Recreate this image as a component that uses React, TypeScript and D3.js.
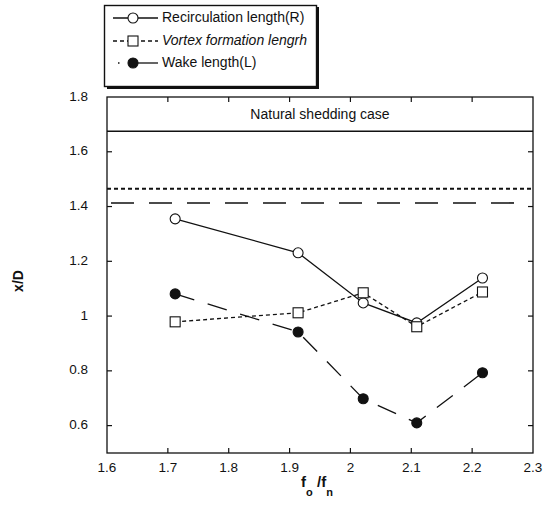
import React, { useEffect, useRef } from "react";
import * as d3 from "d3";

// frequency ratio f_o/f_n
const freq = [1.712, 1.914, 2.021, 2.109, 2.217];
const recirculation = [1.355, 1.231, 1.048, 0.975, 1.139];
const vortexFormation = [0.979, 1.012, 1.085, 0.961, 1.088];
const wakeLength = [1.081, 0.942, 0.698, 0.61, 0.793];

// natural shedding reference levels
const naturalRecirculation = 1.675;
const naturalVortex = 1.465;
const naturalWake = 1.413;

const xTicks = [1.6, 1.7, 1.8, 1.9, 2, 2.1, 2.2, 2.3];
const yTicks = [0.6, 0.8, 1, 1.2, 1.4, 1.6, 1.8];

const legendNames = ["Recirculation length(R)", "Vortex formation lengrh", "Wake length(L)"];

const FONT = "'Liberation Sans', Arial, sans-serif";

const App = () => {
  const svgRef = useRef<SVGSVGElement>(null);

  useEffect(() => {
    document.body.style.margin = "0";
    const svg = d3.select(svgRef.current);
    svg.selectAll("*").remove();

    const width = 544;
    const height = 526;
    const margin = { top: 97, right: 11, bottom: 73, left: 107 };

    const x = d3.scaleLinear().domain([1.6, 2.3]).range([margin.left, width - margin.right]);
    const y = d3.scaleLinear().domain([0.5, 1.8]).range([height - margin.bottom, margin.top]);

    const x0 = x(1.6), x1 = x(2.3), y0 = y(0.5), y1 = y(1.8);

    // frame
    svg.append("rect")
      .attr("x", x0).attr("y", y1)
      .attr("width", x1 - x0).attr("height", y0 - y1)
      .attr("fill", "none").attr("stroke", "#111").attr("stroke-width", 1.3);

    const tickLen = 5;
    const ticks = svg.append("g").attr("stroke", "#111").attr("stroke-width", 1.2);
    xTicks.slice(1, -1).forEach((t) => {
      ticks.append("line").attr("x1", x(t)).attr("x2", x(t)).attr("y1", y0).attr("y2", y0 - tickLen);
      ticks.append("line").attr("x1", x(t)).attr("x2", x(t)).attr("y1", y1).attr("y2", y1 + tickLen);
    });
    yTicks.slice(0, -1).forEach((t) => {
      ticks.append("line").attr("x1", x0).attr("x2", x0 + tickLen).attr("y1", y(t)).attr("y2", y(t));
      ticks.append("line").attr("x1", x1).attr("x2", x1 - tickLen).attr("y1", y(t)).attr("y2", y(t));
    });

    // tick labels
    svg.append("g").selectAll("text").data(xTicks).join("text")
      .attr("x", (d) => x(d)).attr("y", y0 + 15)
      .attr("text-anchor", "middle").attr("dominant-baseline", "middle")
      .attr("font-family", FONT).attr("font-size", 13.5).attr("fill", "#111")
      .text((d) => String(d));
    svg.append("g").selectAll("text").data(yTicks).join("text")
      .attr("x", x0 - 19).attr("y", (d) => y(d))
      .attr("text-anchor", "end").attr("dominant-baseline", "middle")
      .attr("font-family", FONT).attr("font-size", 13.5).attr("fill", "#111")
      .text((d) => String(d));

    // axis titles
    svg.append("text")
      .attr("transform", `translate(23, ${(y0 + y1) / 2 + 6}) rotate(-90)`)
      .attr("text-anchor", "middle")
      .attr("font-family", FONT).attr("font-size", 14).attr("font-weight", "bold").attr("fill", "#111")
      .text("x/D");
    const xt = svg.append("text")
      .attr("x", (x0 + x1) / 2 - 3).attr("y", 487)
      .attr("text-anchor", "middle")
      .attr("font-family", FONT).attr("font-size", 15).attr("font-weight", "bold").attr("fill", "#111");
    xt.append("tspan").text("f");
    xt.append("tspan").attr("dy", 9).attr("font-size", 11).text("o");
    xt.append("tspan").attr("dy", -9).text(" /f");
    xt.append("tspan").attr("dy", 9).attr("font-size", 11).text("n");

    // natural shedding reference lines
    svg.append("line")
      .attr("x1", x0).attr("x2", x1).attr("y1", y(naturalRecirculation)).attr("y2", y(naturalRecirculation))
      .attr("stroke", "#111").attr("stroke-width", 1.3);
    svg.append("text")
      .attr("x", (x0 + x1) / 2).attr("y", (y1 + y(naturalRecirculation)) / 2 + 1)
      .attr("text-anchor", "middle").attr("dominant-baseline", "middle")
      .attr("font-family", FONT).attr("font-size", 14).attr("fill", "#111")
      .text("Natural shedding case");
    svg.append("line")
      .attr("x1", x0).attr("x2", x1).attr("y1", y(naturalVortex)).attr("y2", y(naturalVortex))
      .attr("stroke", "#111").attr("stroke-width", 2).attr("stroke-dasharray", "4,3");
    svg.append("line")
      .attr("x1", x0 + 4).attr("x2", x1 - 4).attr("y1", y(naturalWake)).attr("y2", y(naturalWake))
      .attr("stroke", "#111").attr("stroke-width", 1.6).attr("stroke-dasharray", "23,15");

    const line = d3.line<[number, number]>().x((d) => x(d[0])).y((d) => y(d[1]));
    const series = [
      { vals: recirculation, dash: null, marker: "circle", fill: "#fff" },
      { vals: vortexFormation, dash: "4,3", marker: "square", fill: "#fff" },
      { vals: wakeLength, dash: "20,14", marker: "circle", fill: "#111" },
    ];

    series.forEach((s) => {
      const pts = freq.map((f, i) => [f, s.vals[i]] as [number, number]);
      svg.append("path")
        .attr("d", line(pts))
        .attr("fill", "none").attr("stroke", "#111").attr("stroke-width", 1.3)
        .attr("stroke-dasharray", s.dash);
    });

    const drawMarker = (g: any, cx: number, cy: number, kind: string, fill: string) => {
      if (kind === "square") {
        g.append("rect").attr("x", cx - 5).attr("y", cy - 5).attr("width", 10).attr("height", 10)
          .attr("fill", fill).attr("stroke", "#111").attr("stroke-width", 1.1);
      } else {
        g.append("circle").attr("cx", cx).attr("cy", cy).attr("r", 5)
          .attr("fill", fill).attr("stroke", "#111").attr("stroke-width", 1.1);
      }
    };

    // draw markers: wake, recirculation, vortex order
    [series[2], series[0], series[1]].forEach((s) => {
      const g = svg.append("g");
      freq.forEach((f, i) => drawMarker(g, x(f), y(s.vals[i]), s.marker, s.fill));
    });

    // legend
    const lg = svg.append("g");
    lg.append("rect").attr("x", 107).attr("y", 7).attr("width", 212).attr("height", 82)
      .attr("fill", "#111");
    lg.append("rect").attr("x", 104.5).attr("y", 5.5).attr("width", 212).attr("height", 81)
      .attr("fill", "#fff").attr("stroke", "#111").attr("stroke-width", 1.4);
    const rowY = [18, 41, 63];
    legendNames.forEach((name, i) => {
      const s = series[i];
      const ly = rowY[i];
      if (i === 2) {
        lg.append("line").attr("x1", 118).attr("x2", 119.5).attr("y1", ly).attr("y2", ly)
          .attr("stroke", "#111").attr("stroke-width", 1.3);
        lg.append("line").attr("x1", 133).attr("x2", 158).attr("y1", ly).attr("y2", ly)
          .attr("stroke", "#111").attr("stroke-width", 1.3);
      } else {
        lg.append("line").attr("x1", 113).attr("x2", 158).attr("y1", ly).attr("y2", ly)
          .attr("stroke", "#111").attr("stroke-width", 1.3)
          .attr("stroke-dasharray", s.dash);
      }
      drawMarker(lg, 133, ly, s.marker, s.fill);
      lg.append("text").attr("x", 162).attr("y", ly).attr("dominant-baseline", "middle")
        .attr("font-family", FONT).attr("font-size", 14).attr("fill", "#111")
        .attr("font-style", i === 1 ? "italic" : "normal")
        .text(name);
    });
  }, []);

  return (
    <div style={{ width: 544, height: 526 }}>
      <svg ref={svgRef} width={544} height={526} style={{ display: "block" }}></svg>
    </div>
  );
};

export default App;
